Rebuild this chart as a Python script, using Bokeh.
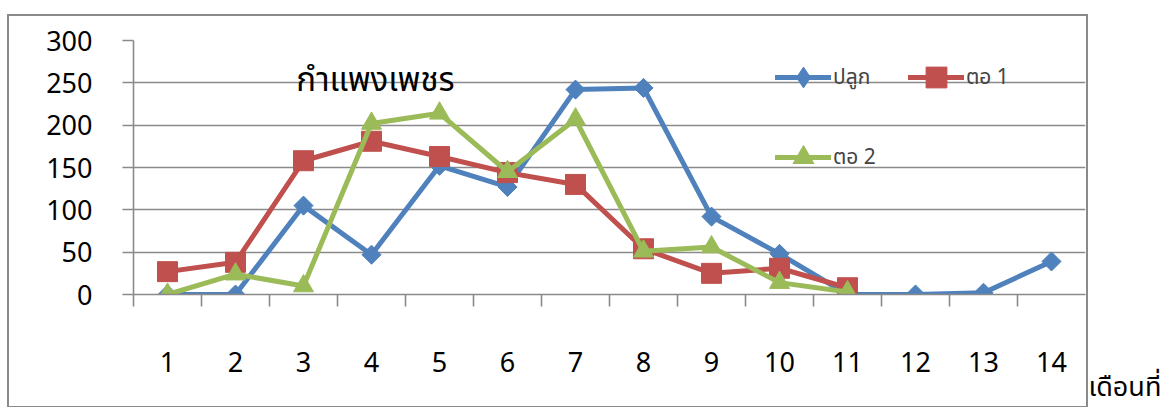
import math

from bokeh.embed import file_html
from bokeh.models import FixedTicker, Label, Legend, LegendItem, Range1d, Title
from bokeh.plotting import figure
from bokeh.resources import INLINE

# Monthly counts for Kamphaeng Phet: plant cane and two ratoon crops
months = list(range(1, 15))
plant = [0, 0, 105, 47, 152, 127, 242, 244, 92, 48, 0, 0, 2, 39]
ratoon1 = [27, 38, 158, 181, 163, 144, 130, 54, 25, 31, 8]
ratoon2 = [0, 24, 10, 202, 214, 145, 207, 51, 56, 14, 3]
y_ticks = [0, 50, 100, 150, 200, 250, 300]
series_names = ["ปลูก", "ตอ 1", "ตอ 2"]
title_text = "กำแพงเพชร"
x_title = "เดือนที่"

FONT = "Noto Sans Thai, Noto Sans"
GRID = "#8a8a8a"
BLUE, RED, GREEN = "#4F81BD", "#C0504D", "#9BBB59"

p = figure(
    frame_width=952, frame_height=254, output_backend="svg", toolbar_location=None,
    x_range=Range1d(0.5, len(months) + 0.5), y_range=Range1d(0, 300),
    min_border_left=133, min_border_right=84, min_border_top=40, min_border_bottom=113,
)
p.outline_line_color = None
p.background_fill_color = "white"
p.border_fill_color = "white"

# thin grey frame around the whole chart area (the x title sits outside it)
p.stylesheets = [
    ":host::after { content: ''; position: absolute; left: 7px; top: 14px; "
    "width: 1077px; height: 390px; border: 2px solid #8a8a8a; pointer-events: none; }"
]

p.xgrid.visible = False
p.ygrid.ticker = FixedTicker(ticks=y_ticks)
p.ygrid.grid_line_color = GRID
p.ygrid.grid_line_width = 1.6

# x axis: labels at month centres, tick marks on the boundaries between months
xax = p.xaxis[0]
xax.ticker = FixedTicker(ticks=months, minor_ticks=[m - 0.5 for m in months])
xax.axis_line_color = GRID
xax.axis_line_width = 1.6
xax.major_tick_line_color = None
xax.minor_tick_line_color = GRID
xax.minor_tick_line_width = 1.6
xax.minor_tick_in = 0
xax.minor_tick_out = 12
xax.major_tick_out = 0
xax.major_tick_in = 0
xax.major_label_standoff = 45
xax.major_label_text_font = FONT
xax.major_label_text_font_size = "27px"
xax.major_label_text_color = "black"

yax = p.yaxis[0]
yax.ticker = FixedTicker(ticks=y_ticks)
yax.axis_line_color = GRID
yax.axis_line_width = 1.6
yax.major_tick_line_color = GRID
yax.major_tick_line_width = 1.6
yax.major_tick_in = 0
yax.major_tick_out = 11
yax.minor_tick_line_color = None
yax.major_label_standoff = 30
yax.major_label_text_font = FONT
yax.major_label_text_font_size = "27px"
yax.major_label_text_color = "black"


def add_series(vals, color, marker, size, angle=0.0):
    xs = months[:len(vals)]
    ln = p.line(xs, vals, line_color=color, line_width=5,
                line_join="round", line_cap="round")
    sc = p.scatter(xs, vals, marker=marker, size=size, angle=angle,
                   fill_color=color, line_color=color, line_width=1)
    return ln, sc


ln_plant, sc_plant = add_series(plant, BLUE, "square", 13.5, math.pi / 4)
ln_rat1, sc_rat1 = add_series(ratoon1, RED, "square", 20)
ln_rat2, sc_rat2 = add_series(ratoon2, GREEN, "triangle", 20)

# legend key for the planted series: a diamond (legend keys are drawn unrotated)
key_plant = p.scatter(months, plant, marker="diamond", fill_color=BLUE,
                      line_color=BLUE, visible=False)

p.add_layout(Label(
    x=242, y=214, x_units="screen", y_units="screen", text=title_text,
    text_align="center", text_baseline="alphabetic",
    text_font=FONT, text_font_size="33px", text_color="black",
))

# x-axis title placed to the right of the last month label
p.add_layout(Title(
    text=x_title, align="left", offset=955, standoff=-16, vertical_align="top",
    text_font=FONT, text_font_size="27px", text_font_style="normal", text_color="black",
), "below")


def add_legend(name, renderers, x, y):
    lg = Legend(
        items=[LegendItem(label=name, renderers=renderers)],
        location=(x, y), padding=0, margin=0, spacing=0,
        glyph_width=56, glyph_height=52, label_height=52, label_standoff=2,
        label_text_font=FONT, label_text_font_size="21px",
        background_fill_alpha=0, border_line_color=None,
    )
    p.add_layout(lg, "center")


add_legend(series_names[0], [ln_plant, key_plant], 642, 191)
add_legend(series_names[1], [ln_rat1, sc_rat1], 775, 191)
add_legend(series_names[2], [ln_rat2, sc_rat2], 642, 111)

open("out.html", "w").write(file_html(p, INLINE))
